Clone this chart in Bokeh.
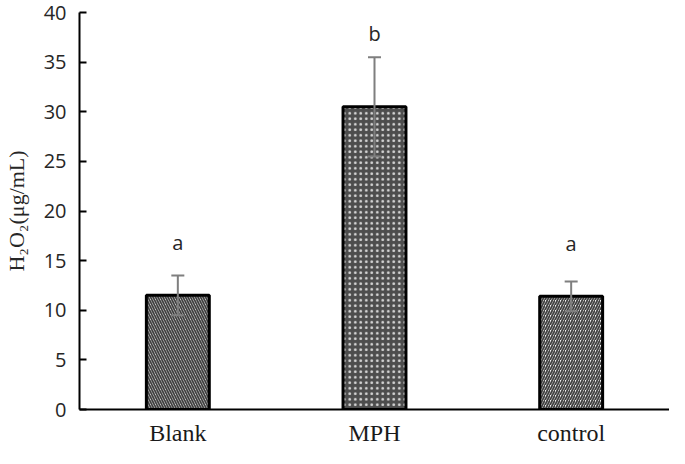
from bokeh.plotting import figure
from bokeh.models import ColumnDataSource, Whisker, TeeHead, FixedTicker, Range1d, FactorRange
from bokeh.core.properties import value
from bokeh.embed import file_html
from bokeh.resources import INLINE

# ---- data ----
categories = ["Blank", "MPH", "control"]
means = [11.5, 30.5, 11.4]
errors = [2.0, 5.0, 1.5]
letters = ["a", "b", "a"]
letter_y = [16.8, 37.9, 16.7]
y_ticks = [0, 5, 10, 15, 20, 25, 30, 35, 40]

upper = [m + e for m, e in zip(means, errors)]
lower = [m - e for m, e in zip(means, errors)]

p = figure(width=669, height=448, x_range=FactorRange(*categories, range_padding=0),
           y_range=Range1d(0, 40), output_backend="svg", toolbar_location=None,
           min_border_left=72, min_border_right=0, min_border_top=12, min_border_bottom=38)

p.outline_line_color = None
p.xgrid.visible = False
p.ygrid.visible = False
p.background_fill_color = "white"
p.border_fill_color = "white"

# bars (each styled individually)
fills = ["#f2f2f2", "#4d4d4d", "#f2f2f2"]
hatch_patterns = ["left_diagonal_line", "dot", "right_diagonal_line"]
hatch_colors = ["#404040", "#d9d9d9", "#404040"]
hatch_weights = [1.8, 1.0, 1.8]
hatch_scales = [5.0, 5.5, 5.0]
for i, c in enumerate(categories):
    src = ColumnDataSource(dict(x=[c], top=[means[i]]))
    p.vbar(x="x", top="top", bottom=0, width=0.32, source=src,
           fill_color=fills[i], line_color="black", line_width=3,
           hatch_pattern=hatch_patterns[i], hatch_color=hatch_colors[i],
           hatch_weight=hatch_weights[i], hatch_scale=hatch_scales[i])

# error bars
esrc = ColumnDataSource(dict(base=categories, upper=upper, lower=lower))
w = Whisker(base="base", upper="upper", lower="lower", source=esrc, level="overlay",
            line_color="#7f7f7f", line_width=2,
            upper_head=TeeHead(size=13, line_color="#7f7f7f", line_width=2),
            lower_head=TeeHead(size=13, line_color="#7f7f7f", line_width=2))
p.add_layout(w)

# significance letters
lsrc = ColumnDataSource(dict(x=categories, y=letter_y, t=letters))
p.text(x="x", y="y", text="t", source=lsrc, text_align="center", text_baseline="middle",
       text_font=value("Open Sans"), text_font_size="20px", text_color="#262626")

# y axis
ya = p.yaxis[0]
ya.ticker = FixedTicker(ticks=y_ticks)
ya.minor_tick_line_color = None
ya.major_tick_in = 7
ya.major_tick_out = 0
ya.major_tick_line_width = 2
ya.major_tick_line_color = "black"
ya.axis_line_width = 2
ya.axis_line_color = "black"
ya.major_label_text_font = "Open Sans"
ya.major_label_text_font_size = "20px"
ya.major_label_text_color = "#262626"
ya.major_label_standoff = 13
ya.axis_label = "H₂O₂(μg/mL)"
ya.axis_label_text_font = "Liberation Serif"
ya.axis_label_text_font_style = "normal"
ya.axis_label_text_font_size = "22px"
ya.axis_label_text_color = "#262626"
ya.axis_label_standoff = 12

# x axis
xa = p.xaxis[0]
xa.major_tick_line_color = None
xa.minor_tick_line_color = None
xa.major_tick_in = 0
xa.major_tick_out = 0
xa.axis_line_width = 2
xa.axis_line_color = "black"
xa.major_label_text_font = "Liberation Serif"
xa.major_label_text_font_size = "24px"
xa.major_label_text_color = "#1a1a1a"
xa.major_label_standoff = 10

open("out.html", "w").write(file_html(p, INLINE))
